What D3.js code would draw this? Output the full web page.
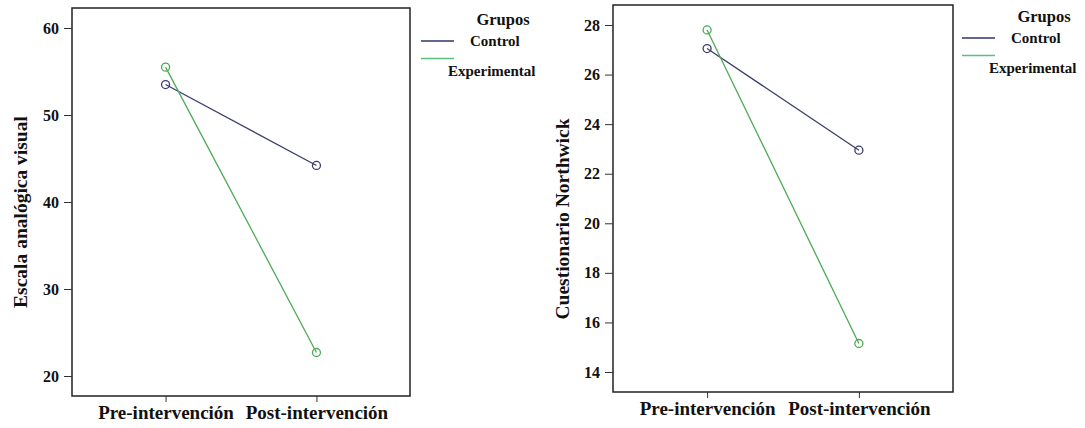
<!DOCTYPE html>
<html>
<head>
<meta charset="utf-8">
<script src="https://cdn.jsdelivr.net/npm/d3@7"></script>
<style>
body{margin:0;background:#fff;}
svg text{font-family:"Liberation Serif","Times New Roman",serif;font-weight:bold;fill:#111;}
</style>
</head>
<body>
<svg id="container" width="1085" height="428"></svg>
<script>
// categories and groups
const momentos = ["Pre-intervención", "Post-intervención"];
const grupos = ["Control", "Experimental"];

// escala analógica visual
const evaControl = [53.5, 44.2];
const evaExperimental = [55.5, 22.7];
const evaTicks = [20, 30, 40, 50, 60];

// cuestionario Northwick
const nwControl = [27.05, 22.95];
const nwExperimental = [27.8, 15.15];
const nwTicks = [14, 16, 18, 20, 22, 24, 26, 28];

const colores = {Control: "#3a3e6e", Experimental: "#4dab55"};
const coloresLeyenda = {Control: "#2e3566", Experimental: "#5cbf7c"};
const serif = "Liberation Serif, Times New Roman, serif";

const svg = d3.select('#container');

function panel(cfg){
    const g = svg.append('g');
    const x = d3.scalePoint().domain(momentos).range([cfg.x0, cfg.x1]).padding(0.62);
    const y = d3.scaleLinear().domain(cfg.domain).range(cfg.range);

    // frame
    g.append('rect')
        .attr('x', cfg.x0).attr('y', cfg.y0)
        .attr('width', cfg.x1 - cfg.x0).attr('height', cfg.y1 - cfg.y0)
        .attr('fill', 'none').attr('stroke', '#222').attr('stroke-width', 1.5);

    const ya = g.append('g')
        .attr('transform', `translate(${cfg.x0},0)`)
        .call(d3.axisLeft(y).tickValues(cfg.ticks).tickSize(8).tickPadding(5).tickFormat(d3.format('d')))
        .attr('font-family', serif)
        .attr('font-size', 16)
        .attr('font-weight', 'bold');
    ya.select('.domain').remove();
    ya.selectAll('text').attr('fill', '#111');
    ya.selectAll('line').attr('stroke', '#333');

    const xa = g.append('g')
        .attr('transform', `translate(0,${cfg.y1})`)
        .call(d3.axisBottom(x).tickSize(6).tickPadding(4))
        .attr('font-family', serif)
        .attr('font-size', 19)
        .attr('font-weight', 'bold');
    xa.select('.domain').remove();
    xa.selectAll('text').attr('fill', '#111');
    xa.selectAll('line').attr('stroke', '#333');

    // y title
    g.append('text')
        .attr('transform', `translate(${cfg.titleX},${cfg.titleY}) rotate(-90)`)
        .attr('text-anchor', 'middle')
        .style('font-size', '19.5px')
        .text(cfg.title);

    const series = [
        {name: 'Control', values: cfg.control},
        {name: 'Experimental', values: cfg.experimental}
    ];

    const line = d3.line()
        .x((d, i) => x(momentos[i]))
        .y(d => y(d));

    series.forEach(s => {
        g.append('path')
            .datum(s.values)
            .attr('d', line)
            .attr('fill', 'none')
            .attr('stroke', colores[s.name])
            .attr('stroke-width', 1.3);
    });
    series.forEach(s => {
        g.selectAll(null)
            .data(s.values)
            .enter()
            .append('circle')
            .attr('cx', (d, i) => x(momentos[i]))
            .attr('cy', d => y(d))
            .attr('r', 4)
            .attr('fill', 'none')
            .attr('stroke', colores[s.name])
            .attr('stroke-width', 1.3);
    });

    // legend
    const lg = g.append('g').attr('transform', `translate(${cfg.legX},${cfg.legY})`);
    lg.append('text').attr('x', 82).attr('y', 0).attr('text-anchor', 'middle').style('font-size', '16.5px').text('Grupos');
    grupos.forEach((name, i) => {
        const ly = 16 + i * 17.5;
        lg.append('line')
            .attr('x1', 0).attr('x2', 33)
            .attr('y1', ly).attr('y2', ly)
            .attr('stroke', coloresLeyenda[name]).attr('stroke-width', 1.3);
        lg.append('text')
            .attr('x', i === 0 ? 49 : 27)
            .attr('y', i === 0 ? ly + 5 : ly + 17)
            .style('font-size', '15px')
            .text(name);
    });
}

panel({
    x0: 72, x1: 410, y0: 8, y1: 396,
    domain: [20, 60], range: [376, 28], ticks: evaTicks,
    control: evaControl, experimental: evaExperimental,
    title: 'Escala analógica visual', titleX: 27, titleY: 212,
    legX: 421, legY: 25
});

panel({
    x0: 613, x1: 953, y0: 5, y1: 392,
    domain: [14, 28], range: [372, 25], ticks: nwTicks,
    control: nwControl, experimental: nwExperimental,
    title: 'Cuestionario Northwick', titleX: 569, titleY: 219,
    legX: 962, legY: 22
});
</script>
</body>
</html>
